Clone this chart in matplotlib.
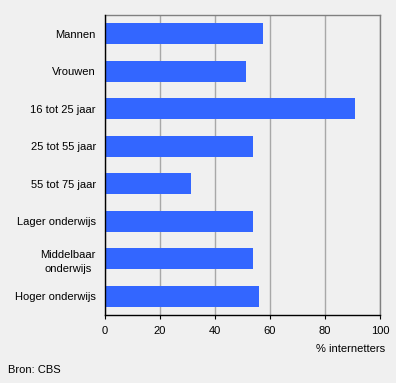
import matplotlib.pyplot as plt
import numpy as np

plt.rcParams['font.family'] = ['Liberation Sans', 'DejaVu Sans']

# data
categories = ["Mannen", "Vrouwen", "16 tot 25 jaar", "25 tot 55 jaar",
              "55 tot 75 jaar", "Lager onderwijs", "Middelbaar\nonderwijs",
              "Hoger onderwijs"]
values = [57.4, 51.2, 90.9, 53.7, 31.2, 53.7, 53.7, 55.9]
xticks = [0, 20, 40, 60, 80, 100]

BG = "#F0F0F0"
BAR = "#3366FF"

fig = plt.figure(figsize=(3.96, 3.83), dpi=100, facecolor=BG)
ax = fig.add_axes([105 / 396, 68 / 383, 275 / 396, 300 / 383])
ax.set_facecolor(BG)

y = np.arange(len(categories))
ax.barh(y, values, height=0.56, color=BAR, zorder=3)
ax.set_ylim(len(categories) - 0.5, -0.5)
ax.set_xlim(0, 100)

ax.set_yticks(y)
ax.set_yticklabels(categories, fontsize=8, ha="right")
ax.tick_params(axis="y", length=0, pad=6.5)
for lbl in ax.get_yticklabels():
    lbl.set_multialignment("center")
    lbl.set_linespacing(1.5)

ax.set_xticks(xticks)
ax.set_xticklabels([str(t) for t in xticks], fontsize=8)
ax.tick_params(axis="x", direction="out", length=3, width=0.8, color="black", pad=5)

ax.grid(axis="x", color="#A8A8A8", linewidth=1, zorder=0)
for side in ["top", "right"]:
    ax.spines[side].set_color("#808080")
    ax.spines[side].set_linewidth(1)
for side in ["left", "bottom"]:
    ax.spines[side].set_color("black")
    ax.spines[side].set_linewidth(1)
    ax.spines[side].set_zorder(4)

fig.text(385 / 396, 1 - 349 / 383, "% internetters", fontsize=8,
         ha="right", va="center")
fig.text(8 / 396, 1 - 370 / 383, "Bron: CBS", fontsize=8,
         ha="left", va="center")

fig.savefig("out.png", dpi=100, facecolor=BG)
